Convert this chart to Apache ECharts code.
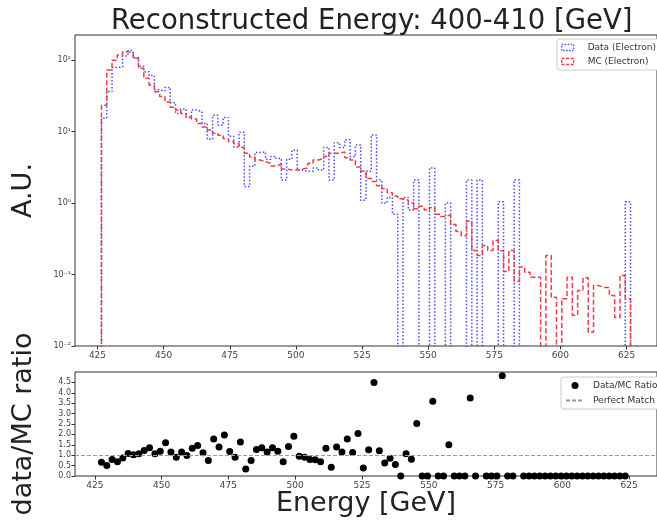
<!DOCTYPE html>
<html>
<head>
<meta charset="utf-8">
<script src="https://cdn.jsdelivr.net/npm/echarts@6/dist/echarts.min.js"></script>
<style>
html,body{margin:0;padding:0;background:#fff;}
#main{width:657px;height:523px;}
</style>
</head>
<body>
<div id="main"></div>
<script>
// binning of the energy histogram (GeV)
var binStart = 426.5;
var binWidth = 2;

// MC (Electron), normalised A.U., one value per bin
var mcValues = [
	23.4, 72.6, 100, 118, 131, 126, 106, 77, 56, 45,
	36, 31, 26, 22, 20, 18, 16, 15, 13, 11.6,
	10.5, 9.5, 8.9, 8.0, 7.3, 6.8, 6.0, 5.0, 4.4, 4.0,
	3.8, 3.6, 3.3, 3.5, 3.0, 2.9, 2.9, 3.0, 3.1, 3.6,
	4.0, 4.2, 4.5, 5.0, 5.0, 5.2, 4.3, 4.0, 3.2, 2.8,
	2.2, 2.0, 1.75, 1.6, 1.4, 1.25, 1.15, 1.1, 1.0, 0.83,
	0.9, 0.8, 0.87, 0.7, 0.65, 0.68, 0.5, 0.4, 0.35, 0.56,
	0.217, 0.185, 0.255, 0.217, 0.30, 0.216, 0.11, 0.217, 0.08, 0.127,
	0.108, 0.092, 0.092, 0, 0.185, 0.048, 0, 0.046, 0.092, 0.027,
	0.06, 0.09, 0.0156, 0.07, 0.066, 0.066, 0.051, 0.025, 0.097, 0.046
];

// Data (Electron)
var dataValues = [
	15.4, 36.3, 79, 80, 114, 136, 108, 82, 69, 61,
	38.5, 36.9, 41.6, 25.3, 18, 20.7, 15.8, 20.1, 19.1, 13,
	7.8, 16.9, 12.4, 15.8, 8.6, 6.1, 9.8, 1.7, 3.3, 5.1,
	5.2, 4.1, 4.5, 4.2, 2.1, 4.1, 5.5, 2.9, 2.8, 2.8,
	3.1, 2.9, 6.0, 2.1, 7.0, 6.0, 7.7, 4.5, 6.5, 1.1,
	2.8, 9.0, 2.1, 1.0, 1.2, 0.7, 0, 1.2, 0.8, 2.1,
	0, 0, 3.1, 0, 0, 1.0, 0, 0, 0, 2.1,
	0, 2.1, 0, 0, 0, 1.04, 0, 0, 2.1, 0,
	0, 0, 0, 0, 0, 0, 0, 0, 0, 0,
	0, 0, 0, 0, 0, 0, 0, 0, 0, 1.04
];

// data/MC ratio per bin (null = not visible in the panel)
var ratioValues = [
	0.66, 0.50, 0.79, 0.68, 0.87, 1.08, 1.02, 1.07, 1.23, 1.36,
	1.07, 1.19, 1.60, 1.15, 0.90, 1.15, 0.99, 1.34, 1.47, 1.12,
	0.74, 1.78, 1.39, 1.97, 1.18, 0.90, 1.63, 0.34, 0.74, 1.28,
	1.36, 1.15, 1.36, 1.19, 0.69, 1.42, 1.91, 0.95, 0.90, 0.79,
	0.78, 0.69, 1.34, 0.42, 1.39, 1.15, 1.78, 1.13, 2.04, 0.39,
	1.26, 4.50, 1.21, 0.63, 0.85, 0.55, 0, 1.07, 0.81, 2.52,
	0, 0, 3.59, 0, 0, 1.50, 0, 0, 0, 3.75,
	0, null, 0, 0, 0, 4.82, 0, 0, null, 0,
	0, 0, 0, 0, 0, 0, 0, 0, 0, 0,
	0, 0, 0, 0, 0, 0, 0, 0, 0, null
];

// tick labels
var xTicks = [425, 450, 475, 500, 525, 550, 575, 600, 625];
var logTicks = [0.01, 0.1, 1, 10, 100];
var logTickLabels = ['10\u207B\u00B2', '10\u207B\u00B9', '10\u2070', '10\u00B9', '10\u00B2'];
var logMinorTicks = [0.02,0.03,0.04,0.05,0.06,0.07,0.08,0.09,
	0.2,0.3,0.4,0.5,0.6,0.7,0.8,0.9,
	2,3,4,5,6,7,8,9,
	20,30,40,50,60,70,80,90,200];
var ratioTicks = [0, 0.5, 1.0, 1.5, 2.0, 2.5, 3.0, 3.5, 4.0, 4.5];

var FLOOR = 1e-3;   // zero bins drop below the log axis floor
var FONT = 'DejaVu Sans';
var AXIS_COLOR = '#333';
var BLUE = '#4a4af0';
var RED = '#f03c4a';

function stepPoints(values){
	var pts = [[binStart, FLOOR]];
	for (var i = 0; i < values.length; i++) {
		var left = binStart + i * binWidth;
		var v = values[i] > 0 ? values[i] : FLOOR;
		pts.push([left, v]);
		pts.push([left + binWidth, v]);
	}
	pts.push([binStart + values.length * binWidth, FLOOR]);
	return pts;
}

function ratioPoints(){
	var pts = [];
	for (var i = 0; i < ratioValues.length; i++) {
		if (ratioValues[i] === null) continue;
		pts.push([binStart + (i + 0.5) * binWidth, ratioValues[i]]);
	}
	return pts;
}

function valueAxis(gridIndex, min, max){
	return {
		type: 'value',
		gridIndex: gridIndex,
		min: min,
		max: max,
		splitLine: {show: false},
		axisLine: {show: false},
		axisTick: {show: true, inside: false, length: 3.5, customValues: xTicks,
			lineStyle: {color: AXIS_COLOR}},
		axisLabel: {customValues: xTicks, fontSize: 9, color: '#444', fontFamily: FONT, margin: 5}
	};
}

var myChart = echarts.init(document.getElementById('main'), null, {renderer: 'canvas'});

var xTop = valueAxis(0, 416.5, 636.5);
var xBottom = valueAxis(1, 417.6, 635.4);
xBottom.name = 'Energy [GeV]';
xBottom.nameLocation = 'middle';
xBottom.nameGap = 13;
xBottom.nameTextStyle = {fontSize: 27, fontFamily: FONT, color: '#222', verticalAlign: 'top'};

myChart.setOption({
	animation: false,
	backgroundColor: '#fff',
	title: {
		text: 'Reconstructed Energy: 400-410 [GeV]',
		left: 106,
		top: 3,
		textStyle: {fontSize: 27.5, fontWeight: 'normal', fontFamily: FONT, color: '#222'}
	},
	grid: [
		{left: 75, top: 35, right: -10, bottom: 177, show: true, borderColor: AXIS_COLOR, borderWidth: 1, backgroundColor: 'transparent'},
		{left: 75, top: 372, right: -10, bottom: 47, show: true, borderColor: AXIS_COLOR, borderWidth: 1, backgroundColor: 'transparent'}
	],
	legend: [
		{
			orient: 'vertical',
			left: 557,
			top: 39,
			selectedMode: false,
			itemWidth: 12,
			itemHeight: 6,
			itemGap: 5,
			padding: [4, 6, 4, 4],
			backgroundColor: '#fff',
			borderColor: '#ccc',
			borderWidth: 1,
			borderRadius: 3,
			textStyle: {fontSize: 9, color: '#333', fontFamily: FONT, padding: [0, 0, 0, 9]},
			data: [
				{name: 'Data (Electron)', icon: 'rect',
					itemStyle: {color: 'transparent', borderColor: BLUE, borderWidth: 1.3, borderType: [1.5, 1.5]}},
				{name: 'MC (Electron)', icon: 'rect',
					itemStyle: {color: 'transparent', borderColor: RED, borderWidth: 1.3, borderType: [3, 1.5]}}
			]
		},
		{
			orient: 'vertical',
			left: 561,
			top: 377,
			selectedMode: false,
			itemWidth: 18,
			itemHeight: 7,
			itemGap: 6,
			padding: [4, 6, 4, 4],
			backgroundColor: '#fff',
			borderColor: '#ccc',
			borderWidth: 1,
			borderRadius: 3,
			textStyle: {fontSize: 9, color: '#333', fontFamily: FONT, padding: [0, 0, 0, 4]},
			data: [
				{name: 'Data/MC Ratio', icon: 'circle', itemStyle: {color: '#000', opacity: 1}},
				{name: 'Perfect Match', itemStyle: {opacity: 0}}
			]
		}
	],
	xAxis: [xTop, xBottom],
	yAxis: [
		{
			type: 'log',
			logBase: 10,
			gridIndex: 0,
			min: 0.01,
			max: 225,
			name: 'A.U.',
			nameLocation: 'middle',
			nameGap: 38,
			nameTextStyle: {fontSize: 27, fontFamily: FONT, color: '#222'},
			splitLine: {show: false},
			axisLine: {show: false},
			axisTick: {show: true, length: 3.5, customValues: logTicks, lineStyle: {color: AXIS_COLOR}},
			axisLabel: {
				customValues: logTicks, fontSize: 8, color: '#444', fontFamily: FONT, margin: 4,
				formatter: function(v){ return logTickLabels[Math.round(Math.log10(v)) + 2]; }
			}
		},
		{
			type: 'log',
			logBase: 10,
			gridIndex: 0,
			min: 0.01,
			max: 225,
			splitLine: {show: false},
			axisLine: {show: false},
			axisTick: {show: true, length: 2, customValues: logMinorTicks, lineStyle: {color: AXIS_COLOR}},
			axisLabel: {show: false}
		},
		{
			type: 'value',
			gridIndex: 1,
			min: 0,
			max: 5,
			name: 'data/MC ratio',
			nameLocation: 'middle',
			nameGap: 38,
			nameTextStyle: {fontSize: 27, fontFamily: FONT, color: '#222'},
			splitLine: {show: false},
			axisLine: {show: false},
			axisTick: {show: true, length: 3.5, customValues: ratioTicks, lineStyle: {color: AXIS_COLOR}},
			axisLabel: {
				customValues: ratioTicks, fontSize: 8, color: '#444', fontFamily: FONT, margin: 4,
				formatter: function(v){ return v.toFixed(1); }
			}
		}
	],
	series: [
		{
			name: 'Data (Electron)',
			type: 'line',
			xAxisIndex: 0,
			yAxisIndex: 0,
			data: stepPoints(dataValues),
			symbol: 'none',
			itemStyle: {color: BLUE},
			lineStyle: {color: BLUE, width: 1.5, type: [1.5, 2]},
			z: 2
		},
		{
			name: 'MC (Electron)',
			type: 'line',
			xAxisIndex: 0,
			yAxisIndex: 0,
			data: stepPoints(mcValues),
			symbol: 'none',
			itemStyle: {color: RED},
			lineStyle: {color: RED, width: 1.5, type: [5, 2.5]},
			z: 3
		},
		{
			name: 'Data/MC Ratio',
			type: 'scatter',
			xAxisIndex: 1,
			yAxisIndex: 2,
			data: ratioPoints(),
			symbolSize: 7,
			itemStyle: {color: '#000', opacity: 1},
			z: 4
		},
		{
			name: 'Perfect Match',
			type: 'line',
			xAxisIndex: 1,
			yAxisIndex: 2,
			data: [],
			symbol: 'none',
			itemStyle: {color: '#999'},
			lineStyle: {color: '#999', width: 1, type: [4, 2]},
			markLine: {
				silent: true,
				symbol: 'none',
				label: {show: false},
				lineStyle: {color: '#999', width: 1, type: [4, 2]},
				data: [{yAxis: 1}]
			},
			z: 1
		}
	]
});
</script>
</body>
</html>
